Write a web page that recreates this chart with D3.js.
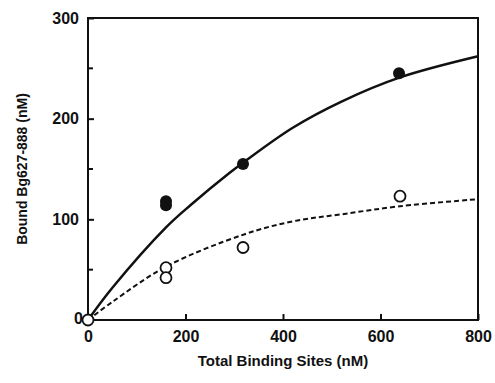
<!DOCTYPE html>
<html lang="en">
<head>
  <meta charset="UTF-8">
  <script src="https://cdn.jsdelivr.net/npm/d3@7"></script>
  <title>Binding</title>
  <style>
    body { margin: 0; background: white; }
    text { font-family: "Liberation Sans", Arial, sans-serif; font-weight: bold; fill: #111; }
    .axis path, .axis line { stroke: #111; stroke-width: 2; }
  </style>
</head>
<body>
  <script>
    // measured points
    const filledX = [160, 160, 318, 638];
    const filledY = [118, 114, 155, 245];
    const openX = [0, 160, 160, 318, 640];
    const openY = [0, 52, 42, 72, 123];

    // fitted curves
    const solidX = [0, 50, 160, 210, 290, 320, 420, 520, 640, 800];
    const solidY = [0, 32, 92, 114, 146, 157, 191, 217, 241, 262];
    const dashX = [0, 50, 160, 320, 420, 520, 640, 800];
    const dashY = [0, 18, 53, 85, 98, 105, 113, 120];

    const xTicks = [0, 200, 400, 600, 800];
    const yTicks = [0, 100, 200, 300];
    const yMinor = [50, 150, 250];

    const W = 495, H = 383;
    const m = { left: 88, right: 17, top: 18, bottom: 63 };

    const svg = d3.select('body').append('svg')
      .attr('width', W)
      .attr('height', H);

    const x = d3.scaleLinear().domain([0, 800]).range([m.left, W - m.right]);
    const y = d3.scaleLinear().domain([0, 300]).range([H - m.bottom, m.top]);

    // frame
    svg.append('rect')
      .attr('x', x(0)).attr('y', y(300))
      .attr('width', x(800) - x(0)).attr('height', y(0) - y(300))
      .attr('fill', 'none').attr('stroke', '#111').attr('stroke-width', 2);

    // x axis (inward ticks)
    const gx = svg.append('g').attr('class', 'axis')
      .attr('transform', `translate(0,${y(0)})`)
      .call(d3.axisBottom(x).tickValues(xTicks).tickSizeInner(-6).tickSizeOuter(0).tickPadding(11));
    gx.select('.domain').remove();
    gx.selectAll('text').style('font-size', '16px');

    // y axis
    const gy = svg.append('g').attr('class', 'axis')
      .attr('transform', `translate(${x(0)},0)`)
      .call(d3.axisLeft(y).tickValues(yTicks).tickSizeInner(-6).tickSizeOuter(0).tickPadding(9));
    gy.select('.domain').remove();
    gy.selectAll('text').style('font-size', '16px');
    gy.selectAll('.tick').filter(d => d === 0).select('text').attr('dx', 4).attr('dy', '0.2em');

    svg.append('g').selectAll('line').data(yMinor).enter().append('line')
      .attr('x1', x(0)).attr('x2', x(0) + 5)
      .attr('y1', d => y(d)).attr('y2', d => y(d))
      .attr('stroke', '#111').attr('stroke-width', 2);

    // curves
    const line = d3.line().x(d => x(d[0])).y(d => y(d[1])).curve(d3.curveCatmullRom.alpha(0.5));
    svg.append('path')
      .datum(solidX.map((v, i) => [v, solidY[i]]))
      .attr('d', line)
      .attr('fill', 'none').attr('stroke', '#111').attr('stroke-width', 2.5);
    svg.append('path')
      .datum(dashX.map((v, i) => [v, dashY[i]]))
      .attr('d', line)
      .attr('fill', 'none').attr('stroke', '#111').attr('stroke-width', 2)
      .attr('stroke-dasharray', '5,3');

    // points
    svg.append('g').selectAll('circle').data(filledX).enter().append('circle')
      .attr('cx', d => x(d)).attr('cy', (d, i) => y(filledY[i]))
      .attr('r', 6).attr('fill', '#111');
    svg.append('g').selectAll('circle').data(openX).enter().append('circle')
      .attr('cx', d => x(d)).attr('cy', (d, i) => y(openY[i]))
      .attr('r', 5.5).attr('fill', 'white').attr('stroke', '#111').attr('stroke-width', 1.8);

    // titles
    svg.append('text')
      .attr('x', (x(0) + x(800)) / 2).attr('y', 366)
      .attr('text-anchor', 'middle').style('font-size', '15px')
      .text('Total Binding Sites (nM)');
    svg.append('text')
      .attr('transform', `translate(27,${(y(0) + y(300)) / 2}) rotate(-90)`)
      .attr('text-anchor', 'middle').style('font-size', '14px')
      .text('Bound Bg627-888 (nM)');
  </script>
</body>
</html>
